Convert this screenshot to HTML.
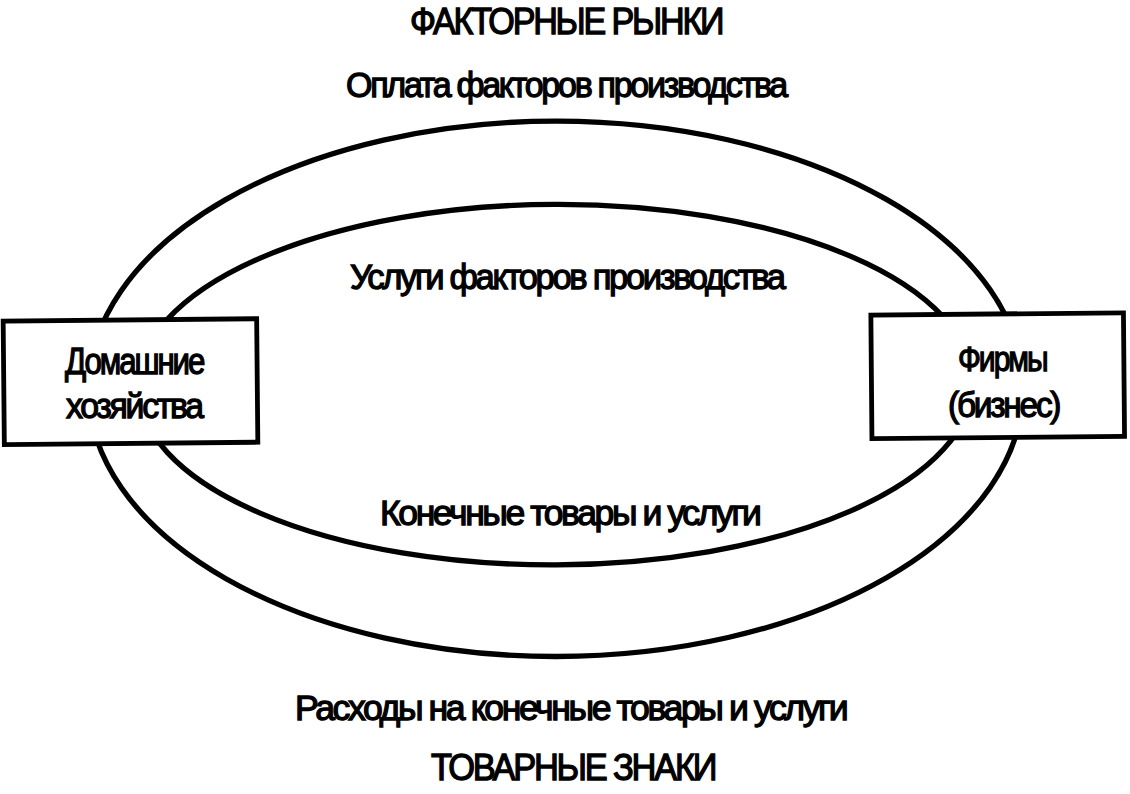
<!DOCTYPE html>
<html><head><meta charset="utf-8"><style>
html,body{margin:0;padding:0;background:#fff;}
body{width:1130px;height:794px;position:relative;overflow:hidden;}
.t{position:absolute;white-space:nowrap;line-height:1;font-family:"Liberation Sans",sans-serif;color:#000;transform-origin:0 0;}
</style></head><body>
<svg width="1130" height="794" viewBox="0 0 1130 794" style="position:absolute;left:0;top:0">
<g fill="none" stroke="#000" stroke-width="5.3">
<ellipse cx="555.8" cy="388.8" rx="467.3" ry="267.7" transform="rotate(-0.06 555.8 388.8)"/>
<ellipse cx="555.2" cy="384.6" rx="417.3" ry="180.3" transform="rotate(-0.24 555.2 384.6)"/>
</g>
<g fill="#fff" stroke="#000" stroke-width="4.8">
<rect x="3.75" y="319.95" width="253.5" height="123.5" transform="rotate(-0.55 130.5 381.7)"/>
<rect x="871.4000000000001" y="313.95" width="252.5999999999999" height="123.5" transform="rotate(-0.5 997.7 375.7)"/>
</g></svg>
<div class='t' style='left:409.96px;top:3.06px;font-size:37.5px;transform:scaleX(0.9088);letter-spacing:-2.4px;-webkit-text-stroke:1.3px #000'>ФАКТОРНЫЕ РЫНКИ</div>
<div class='t' style='left:345.87px;top:68.35px;font-size:35.5px;transform:scaleX(0.9592);letter-spacing:-2.4px;-webkit-text-stroke:1.3px #000'>Оплата факторов производства</div>
<div class='t' style='left:350.03px;top:260.25px;font-size:35.5px;transform:scaleX(0.9732);letter-spacing:-2.4px;-webkit-text-stroke:1.3px #000'>Услуги факторов производства</div>
<div class='t' style='left:379.65px;top:495.75px;font-size:35.5px;transform:scaleX(1.0005);letter-spacing:-2.4px;-webkit-text-stroke:1.3px #000'>Конечные товары и услуги</div>
<div class='t' style='left:295.33px;top:690.95px;font-size:35.5px;transform:scaleX(1.0027);letter-spacing:-2.4px;-webkit-text-stroke:1.3px #000'>Расходы на конечные товары и услуги</div>
<div class='t' style='left:431.00px;top:749.26px;font-size:37.5px;transform:scaleX(0.9176);letter-spacing:-2.4px;-webkit-text-stroke:1.3px #000'>ТОВАРНЫЕ ЗНАКИ</div>
<div class='t' style='left:65.00px;top:343.53px;font-size:36px;transform:scaleX(0.8682);letter-spacing:-2.4px;-webkit-text-stroke:1.3px #000'>Домашние</div>
<div class='t' style='left:66.00px;top:388.95px;font-size:35.5px;transform:scaleX(0.9519);letter-spacing:-2.4px;-webkit-text-stroke:1.3px #000'>хозяйства</div>
<div class='t' style='left:958.00px;top:341.95px;font-size:35.5px;transform:scaleX(0.8479);letter-spacing:-2.4px;-webkit-text-stroke:1.3px #000'>Фирмы</div>
<div class='t' style='left:947.63px;top:387.55px;font-size:35.5px;transform:scaleX(0.9428);letter-spacing:-2.4px;-webkit-text-stroke:1.3px #000'>(бизнес)</div>
</body></html>
